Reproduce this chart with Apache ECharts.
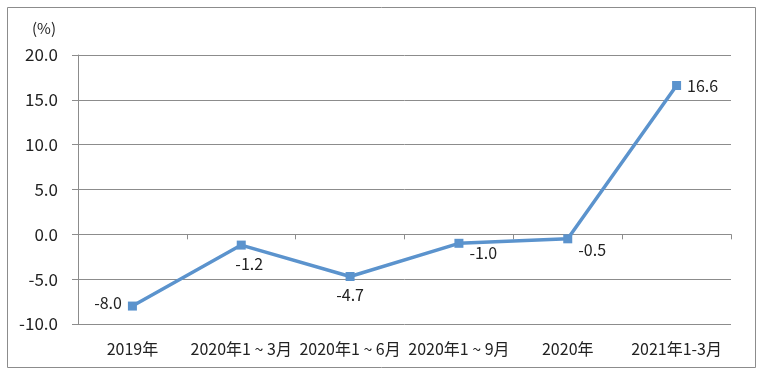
<!DOCTYPE html>
<html><head><meta charset="utf-8">
<script src="https://cdn.jsdelivr.net/npm/echarts@6/dist/echarts.min.js"></script>
<style>html,body{margin:0;padding:0;background:#fff}#c{width:764px;height:375px}</style>
</head><body><div id="c"></div>
<script>
const categories = ['2019年', '2020年1 ~ 3月', '2020年1 ~ 6月', '2020年1 ~ 9月', '2020年', '2021年1-3月'];
const values = [-8.0, -1.2, -4.7, -1.0, -0.5, 16.6];
const labelPositions = ['left', 'bottom', 'bottom', 'right', 'right', 'right'];
const labelOffsets = [[0, -3], [8, 0], [0, 0], [0, 10], [0, 11], [0, 0]];

const font = '"Noto Sans CJK SC", "Microsoft YaHei", sans-serif';
const chart = echarts.init(document.getElementById('c'));
chart.setOption({
  animation: false,
  backgroundColor: '#fff',
  textStyle: { fontFamily: font },
  graphic: [{
    type: 'rect', shape: { x: 7.5, y: 7.5, width: 748, height: 360 },
    style: { fill: 'none', stroke: '#8c8c8c', lineWidth: 1 }, z: -1
  }, {
    type: 'text', left: 32, top: 21,
    style: { text: '(%)', fontSize: 15, fill: '#222', fontFamily: font }
  }],
  grid: { left: 78, right: 33, top: 55, bottom: 51, containLabel: false },
  xAxis: [{
    type: 'category', data: categories, position: 'bottom',
    axisLine: { show: false, onZero: false }, axisTick: { show: false },
    axisLabel: { color: '#222', fontSize: 16, margin: 17, fontFamily: font, interval: 0 }
  }, {
    type: 'category', data: categories, position: 'bottom',
    axisLine: { show: true, onZero: true, lineStyle: { color: '#8c8c8c' } },
    axisTick: { show: true, length: 5, lineStyle: { color: '#8c8c8c' } },
    axisLabel: { show: false }
  }],
  yAxis: {
    type: 'value', min: -10, max: 20, interval: 5,
    axisLine: { show: true, lineStyle: { color: '#8c8c8c' } },
    axisTick: { show: true, length: 6, lineStyle: { color: '#8c8c8c' } },
    splitLine: { lineStyle: { color: '#8c8c8c' } },
    axisLabel: { color: '#222', fontSize: 17, margin: 20, fontFamily: font,
      formatter: v => v.toFixed(1) }
  },
  series: [{
    type: 'line', xAxisIndex: 0,
    data: values.map((v, i) => ({
      value: v,
      label: { position: labelPositions[i], offset: labelOffsets[i] }
    })),
    symbol: 'rect', symbolSize: 9,
    lineStyle: { color: '#5b93cd', width: 3.5 },
    itemStyle: { color: '#5b93cd' },
    label: { show: true, color: '#222', fontSize: 16, fontFamily: font, distance: 6,
      formatter: p => p.value.toFixed(1) }
  }]
});
</script></body></html>
